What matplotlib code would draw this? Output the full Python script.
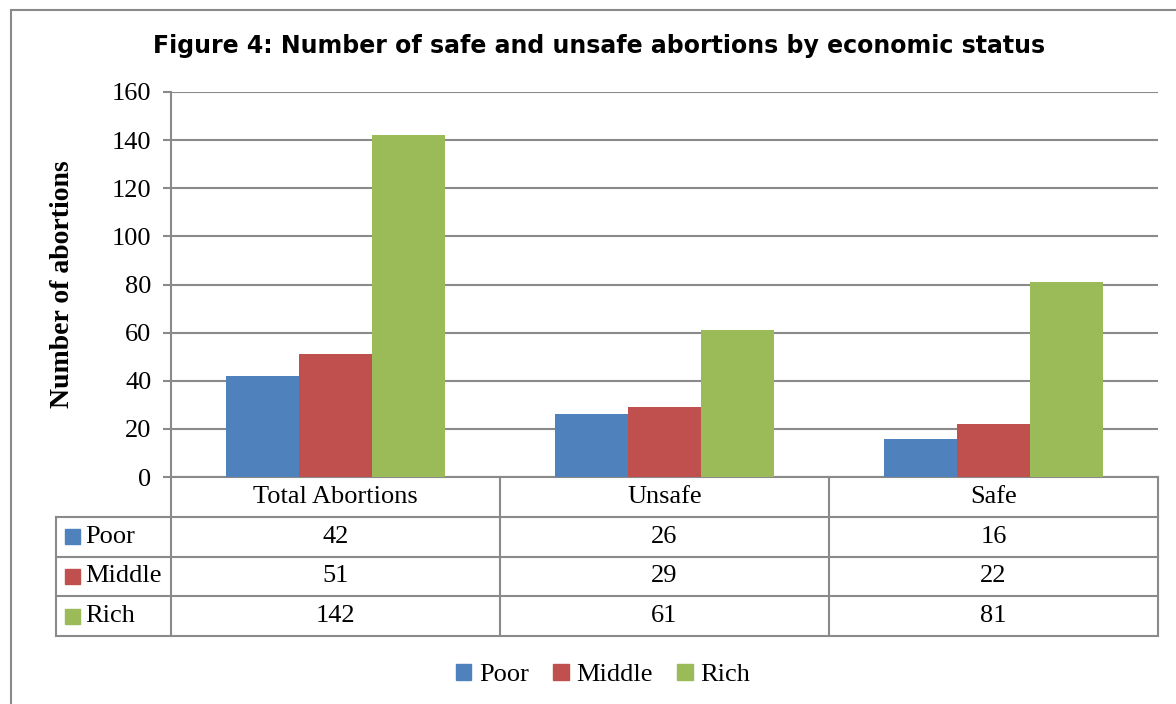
import matplotlib.pyplot as plt
from matplotlib.patches import Rectangle

categories = ['Total Abortions', 'Unsafe', 'Safe']
series = ['Poor', 'Middle', 'Rich']
poor = [42, 26, 16]
middle = [51, 29, 22]
rich = [142, 61, 81]
colors = ['#4F81BD', '#C0504D', '#9BBB59']
yticks = [0, 20, 40, 60, 80, 100, 120, 140, 160]

W, H = 1176, 704
grey = '#8a8a8a'
serif = 'Liberation Serif'
fs = 19

fig = plt.figure(figsize=(W / 100, H / 100), dpi=100)

# outer chart border (only left and top visible in the crop)
fig.patches.append(Rectangle((11 / W, -0.1), 1.2, (H - 10) / H + 0.1, transform=fig.transFigure,
                             fill=False, edgecolor=grey, linewidth=1.5))

fig.text(599 / W, 1 - 46 / H, 'Figure 4: Number of safe and unsafe abortions by economic status',
         ha='center', va='center', fontsize=17, fontweight='bold', family='DejaVu Sans')

# plot area
ax = fig.add_axes([171 / W, 1 - 477 / H, (1158 - 171) / W, (477 - 92) / H])
bw = 1 / 4.5
for j, vals in enumerate([poor, middle, rich]):
    xs = [i + 0.5 + (j - 1) * bw for i in range(len(categories))]
    ax.bar(xs, vals, width=bw, color=colors[j], edgecolor='none', zorder=3)

ax.set_xlim(0, 3)
ax.set_ylim(0, 160)
ax.set_yticks(yticks)
ax.set_yticklabels([str(t) for t in yticks], family=serif, fontsize=fs)
ax.set_xticks([])
ax.grid(axis='y', color=grey, linewidth=1.5, zorder=0)
ax.tick_params(axis='y', length=6, width=1.5, color=grey, pad=8)
for s in ['top', 'right']:
    ax.spines[s].set_visible(False)
ax.spines['left'].set_color(grey)
ax.spines['left'].set_linewidth(1.5)
ax.spines['bottom'].set_color(grey)
ax.spines['bottom'].set_linewidth(1.5)
ax.set_ylabel('Number of abortions', family=serif, fontsize=20, fontweight='bold')
ax.yaxis.set_label_coords(-0.097, 0.5)

# data table under the axis
lab_w = 3 * (171 - 56) / (1158 - 171)
tax = fig.add_axes([56 / W, 1 - 636 / H, (1158 - 56) / W, (636 - 477) / H])
tax.set_xlim(-lab_w, 3)
tax.set_ylim(4, 0)
tax.axis('off')
for r in range(1, 5):
    tax.plot([-lab_w, 3], [r, r], color=grey, lw=1.5, clip_on=False)
tax.plot([-lab_w, -lab_w], [1, 4], color=grey, lw=1.5, clip_on=False)
for c in range(4):
    tax.plot([c, c], [0, 4], color=grey, lw=1.5, clip_on=False)
for i, cat in enumerate(categories):
    tax.text(i + 0.5, 0.5, cat, ha='center', va='center', family=serif, fontsize=fs)
sq_w = 15 / 329
for r, (name, vals) in enumerate(zip(series, [poor, middle, rich])):
    y = r + 1.5
    tax.add_patch(Rectangle((-lab_w + 9 / 329, y - 0.19), sq_w, 0.38, color=colors[r], clip_on=False))
    tax.text(-lab_w + 29 / 329, y, name, ha='left', va='center', family=serif, fontsize=fs)
    for i, v in enumerate(vals):
        tax.text(i + 0.5, y, str(v), ha='center', va='center', family=serif, fontsize=fs)

# legend
handles = [Rectangle((0, 0), 1, 1, color=c) for c in colors]
fig.legend(handles, series, loc='center', bbox_to_anchor=(603 / W, 1 - 675 / H), ncol=3,
           frameon=False, prop={'family': serif, 'size': fs}, handlelength=0.6, handleheight=0.6,
           handletextpad=0.3, columnspacing=0.9)

fig.savefig('out.png', dpi=100)
